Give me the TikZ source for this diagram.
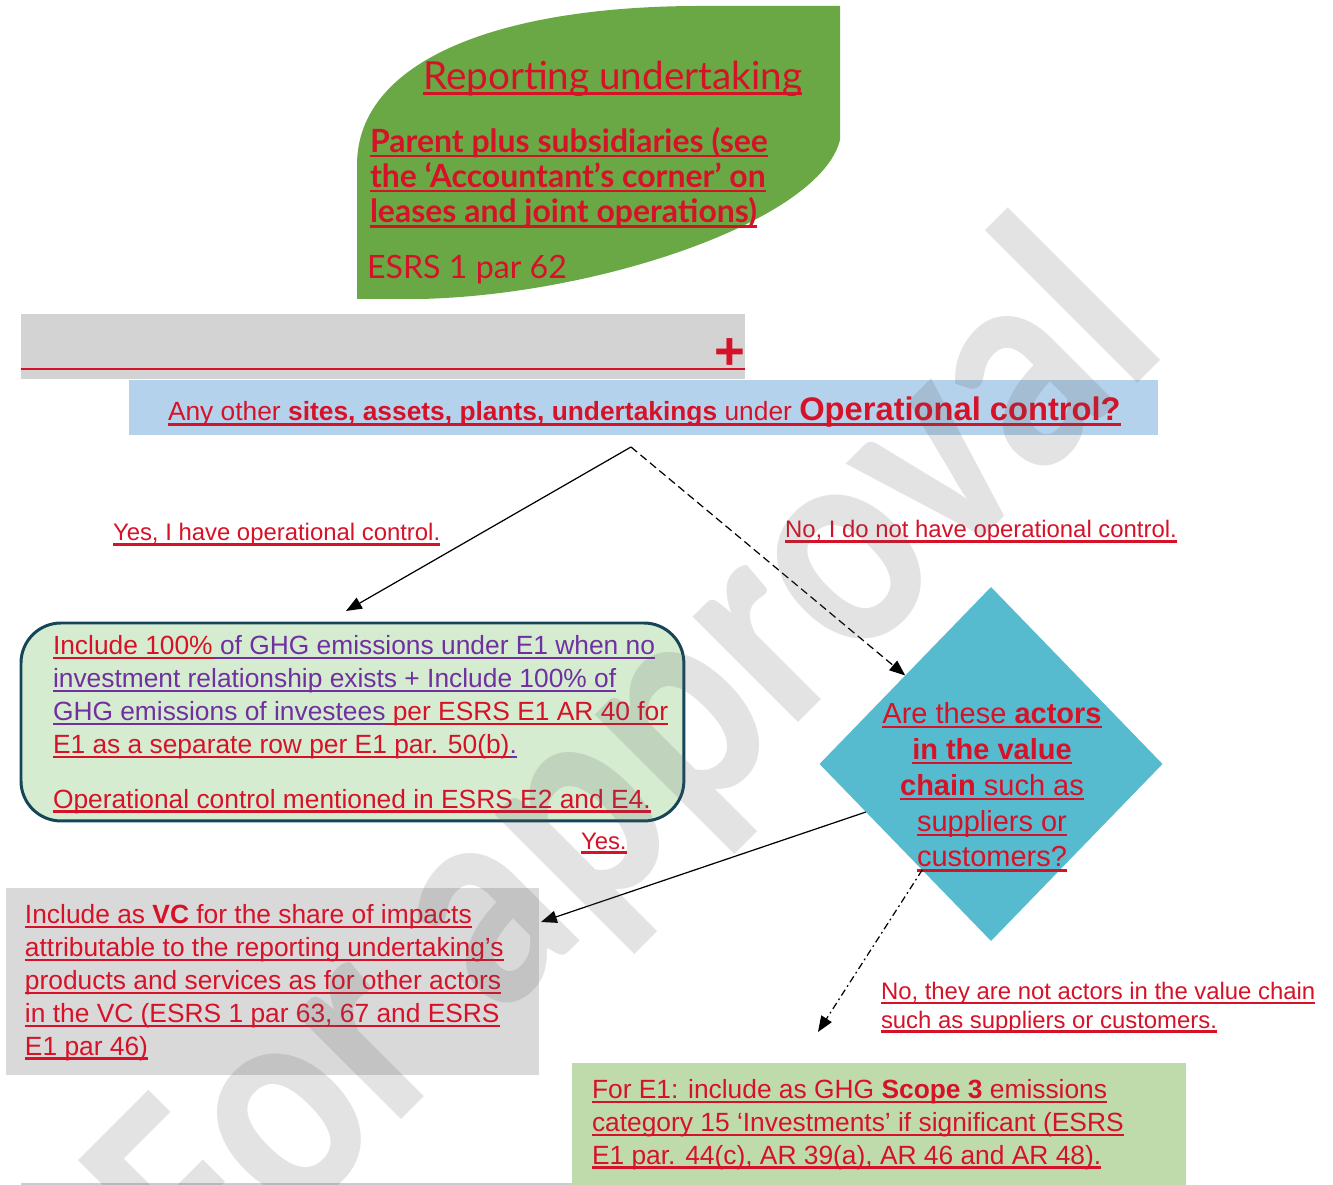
\documentclass[tikz,border=0pt]{standalone}
\usepackage{fontspec}
\setmainfont{Liberation Sans}
\newfontfamily\leaffont{Lato}
\newfontfamily\markfont{Carlito}
\usetikzlibrary{arrows.meta,shapes.geometric}

\newlength\ulinwd
\newcommand{\ulin}[1]{\settowidth{\ulinwd}{#1}\rlap{\rule[-2.6pt]{\ulinwd}{1.2pt}}#1}

\definecolor{esred}{RGB}{214,18,40}
\definecolor{esviolet}{RGB}{112,48,160}
\definecolor{leafgreen}{RGB}{106,168,69}
\definecolor{bargrey}{RGB}{211,211,211}
\definecolor{askblue}{RGB}{181,210,236}
\definecolor{opgreen}{RGB}{214,236,209}
\definecolor{opedge}{RGB}{20,70,88}
\definecolor{vcteal}{RGB}{86,187,207}
\definecolor{vcgrey}{RGB}{217,217,217}
\definecolor{scopegreen}{RGB}{192,219,171}

% multi-line nodes sit on the baseline of their last line
\tikzset{
    every node/.style={inner sep=0pt, outer sep=0pt, text=esred},
    body/.style={font=\fontsize{15}{18.7}\selectfont, align=left, anchor=base west},
    lbl/.style={font=\fontsize{13.6}{16.4}\selectfont, align=left, anchor=base west},
    panel/.style={anchor=north west, minimum width=#1},
    link/.style={draw=black, line width=0.7pt, -{Triangle[length=9pt,width=7pt]}},
}

\begin{document}
\begin{tikzpicture}[x=0.02cm, y=-0.02cm]
        \useasboundingbox (0,0) rectangle (1333,1185);

        % reporting undertaking leaf
        \fill[leafgreen] (357,299) -- (420,299)
            .. controls (600,295) and (820,220) .. (840,140)
            -- (840,6) -- (700,6)
            .. controls (500,6) and (357,60) .. (357,165) -- cycle;
        \node[anchor=base west, font=\leaffont\fontsize{22}{22}\selectfont] (title) at (423,90)
            {\ulin{Reporting undertaking}};
        \node[anchor=base west, align=left, font=\leaffont\bfseries\fontsize{18.2}{20.1}\selectfont] (parent) at (370,223)
            {\ulin{Parent plus subsidiaries (see}\\
             \ulin{the ‘Accountant’s corner’ on}\\
             \ulin{leases and joint operations)}};
        \node[anchor=base west, font=\leaffont\fontsize{18.3}{18}\selectfont] (esrs) at (367,279) {ESRS 1 par 62};

        % grey bar and question
        \node[panel=14.48cm, minimum height=1.3cm, fill=bargrey] (bar) at (21,314) {};
        \draw[esred, line width=1.6pt] (21,369) -- (745,369);
        \node[font=\bfseries\fontsize{30}{30}\selectfont] (plus) at (730,354) {+};

        \node[panel=20.58cm, minimum height=1.1cm, fill=askblue] (ask) at (129,380) {};
        \node[body] (asktext) at (168,421)
            {\ulin{Any other \textbf{sites, assets, plants, undertakings} under
             {\fontsize{18.6}{20}\selectfont\bfseries Operational control?}}};

        \coordinate (split) at (631,447);

        % operational control box
        \node[panel=13.26cm, minimum height=3.96cm, fill=opgreen, draw=opedge,
            line width=1.7pt, rounded corners=0.8cm] (opbox) at (21,623) {};
        \node[body] (optext) at (53,808)
            {\ulin{Include 100\%}\textcolor{esviolet}{\ulin{ of GHG emissions under E1 when no}}\\
             \textcolor{esviolet}{\ulin{investment relationship exists + Include 100\% of}}\\
             \textcolor{esviolet}{\ulin{GHG emissions of investees}}\ulin{ per ESRS E1 AR 40 for}\\
             \ulin{E1 as a separate row per E1 par. 50(b)}\textcolor{esviolet}{\ulin{.}}\\[12.5pt]
             \ulin{Operational control mentioned in ESRS E2 and E4.}};

        % value chain question
        \node[diamond, fill=vcteal, minimum width=6.86cm, minimum height=7.08cm] (chain) at (991,764) {};
        \node[font=\fontsize{16.5}{20.4}\selectfont, align=center, anchor=base] (chaintext) at (992,867)
            {\ulin{Are these \textbf{actors}}\\
             \ulin{\textbf{in the value}}\\
             \ulin{\textbf{chain} such as}\\
             \ulin{suppliers or}\\
             \ulin{customers?}};

        % value chain box
        \node[panel=10.66cm, minimum height=3.74cm, fill=vcgrey] (vcbox) at (6,888) {};
        \node[body] (vctext) at (25,1055)
            {\ulin{Include as \textbf{VC} for the share of impacts}\\
             \ulin{attributable to the reporting undertaking’s}\\
             \ulin{products and services as for other actors}\\
             \ulin{in the VC (ESRS 1 par 63, 67 and ESRS}\\
             \ulin{E1 par 46)}};

        % scope 3 box
        \draw[black!20, line width=0.6pt] (21,1184) -- (690,1184);
        \node[panel=12.28cm, minimum height=2.44cm, fill=scopegreen] (scopebox) at (572,1063) {};
        \node[body] (scopetext) at (592,1164)
            {\ulin{For E1: include as GHG \textbf{Scope 3} emissions}\\
             \ulin{category 15 ‘Investments’ if significant (ESRS}\\
             \ulin{E1 par. 44(c), AR 39(a), AR 46 and AR 48).}};

        % connectors
        \coordinate (opin) at (346,611);
        \coordinate (vcin) at (541,922);
        \coordinate (scopein) at (818,1032);
        \draw[link] (split) -- (opin);
        \draw[link, dash pattern=on 4.5pt off 2.5pt] (split) -- (chain.north west);
        \draw[link] (chain.201) -- (vcin);
        \draw[link, dash pattern=on 4pt off 2pt on 1pt off 2pt] (chain.237) -- (scopein);

        \node[lbl] (yesop) at (113,541) {\ulin{Yes, I have operational control.}};
        \node[lbl] (noop) at (785,538) {\ulin{No, I do not have operational control.}};
        \node[lbl] (yesvc) at (581,849) {\ulin{Yes.}};
        \node[lbl] (novc) at (881,1028)
            {\ulin{No, they are not actors in the value chain}\\
             \ulin{such as suppliers or customers.}};

        % watermark
        \node[rotate=45, anchor=base east, text=black!65, text opacity=0.17,
            font=\markfont\bfseries\fontsize{175}{175}\selectfont] (mark) at (1172,349)
            {\scalebox{0.85}[1]{For approval}};
    \end{tikzpicture}
\end{document}
